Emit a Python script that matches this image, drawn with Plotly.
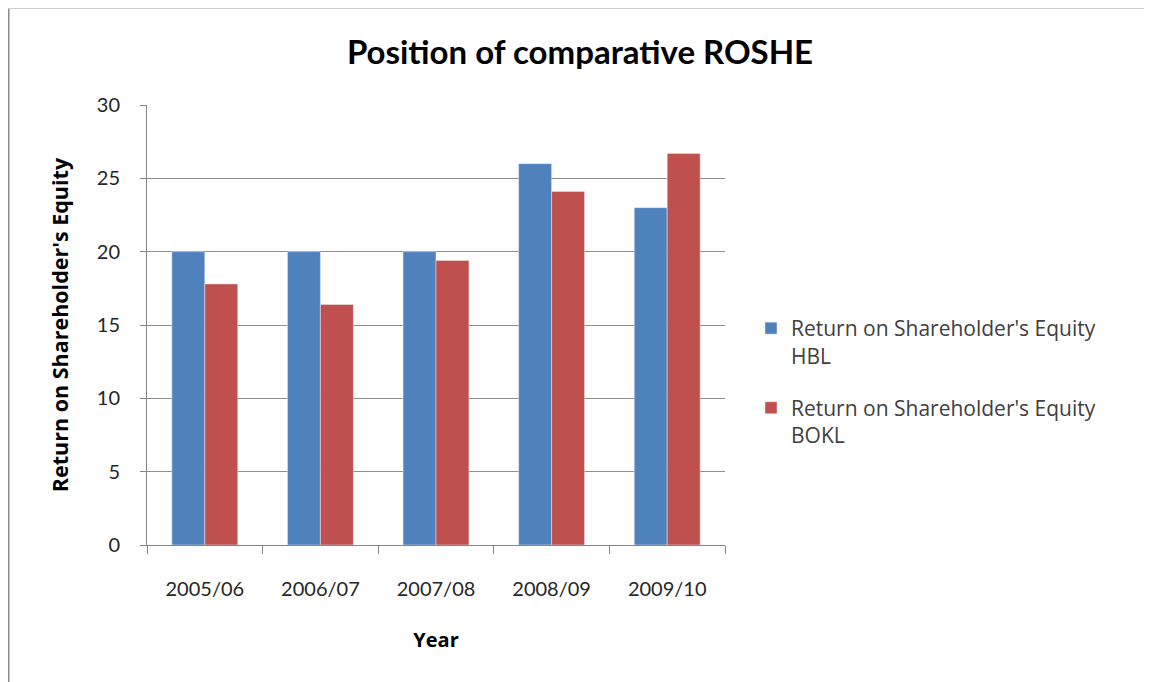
import plotly.graph_objects as go

years = ["2005/06", "2006/07", "2007/08", "2008/09", "2009/10"]
hbl = [20, 20, 20, 26, 23]
bokl = [17.8, 16.4, 19.4, 24.1, 26.7]
series_names = ["Return on Shareholder's Equity<br>HBL", "Return on Shareholder's Equity<br>BOKL"]
y_ticks = [0, 5, 10, 15, 20, 25, 30]

W, H = 1152, 682
OX, OY = 8, 8  # page body offset
# plot area in screen pixels
SL, SR, ST, SB = 147, 725, 105, 545
L, R, T, B = SL - OX, SR - OX, ST - OY, SB - OY
FONT = "Lato, 'Open Sans', sans-serif"
WFONT = "'Open Sans', sans-serif"

fig = go.Figure()
fig.add_trace(go.Bar(x=years, y=hbl, name=series_names[0], marker_color="#4F81BD", legendgroup="a"))
fig.add_trace(go.Bar(x=years, y=bokl, name=series_names[1], marker_color="#C0504D", legendgroup="b"))

def sx(px):  # screen px -> paper x
    return (px - OX - L) / (R - L)

def sy(py):  # screen px -> paper y
    return (B - (py - OY)) / (B - T)

fig.update_layout(
    width=W, height=H,
    margin=dict(l=L, r=W - R, t=T, b=H - B, pad=0),
    paper_bgcolor="white", plot_bgcolor="white",
    barmode="group", bargap=0.43, bargroupgap=0,
    font=dict(family=FONT, color="#262626", size=20),
    title=dict(text="<b>Position of comparative ROSHE</b>", x=(580 - OX) / W, xanchor="center",
               y=1 - (52 - OY) / H, yanchor="middle", font=dict(size=33, family=FONT, color="#000")),
    xaxis=dict(title=dict(text="<b>Year</b>", font=dict(size=20, color="#000", family=WFONT), standoff=33),
               showline=True, linecolor="#868686", linewidth=1,
               ticks="outside", ticklen=8, tickcolor="#868686", tickson="boundaries",
               tickfont=dict(size=20), ticklabelstandoff=26, range=[-0.5, 4.5]),
    yaxis=dict(title=dict(text="<b>Return on Shareholder's Equity</b>", font=dict(size=21.5, color="#000", family=WFONT), standoff=22),
               range=[0, 30], tickvals=y_ticks, showgrid=True, gridcolor="#8f8f8f", gridwidth=1,
               showline=True, linecolor="#868686", linewidth=1,
               ticks="outside", ticklen=6, tickcolor="#868686", tickfont=dict(size=20),
               ticklabelstandoff=16, zeroline=False),
    legend=dict(x=sx(751), xanchor="left", y=sy(382), yanchor="middle", valign="top",
                font=dict(size=21, color="#404040", family=WFONT), tracegroupgap=22, itemwidth=30,
                bgcolor="rgba(0,0,0,0)"),
    showlegend=True,
)

# image frame lines
fig.add_shape(type="line", xref="paper", yref="paper", x0=sx(8.5), x1=sx(8.5), y0=sy(8.5), y1=sy(700),
              line=dict(color="#8c8c8c", width=2))
fig.add_shape(type="line", xref="paper", yref="paper", x0=sx(8), x1=sx(1160), y0=sy(8.5), y1=sy(8.5),
              line=dict(color="#cfcfcf", width=1))

fig.write_html("out.html")
